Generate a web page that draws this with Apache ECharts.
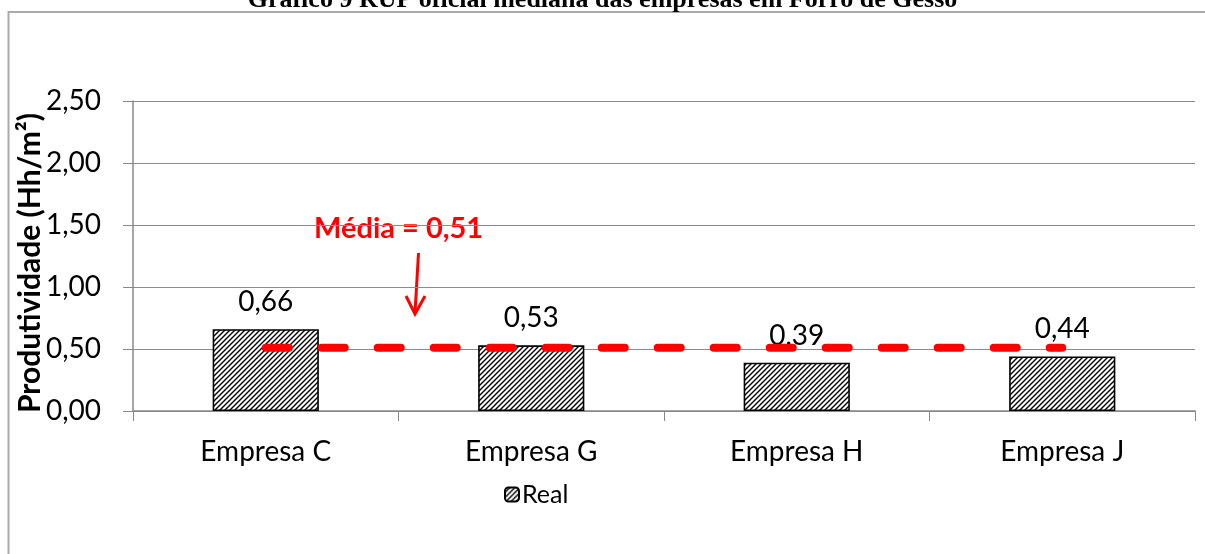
<!DOCTYPE html>
<html><head><meta charset="utf-8">
<script src="https://cdn.jsdelivr.net/npm/echarts@6/dist/echarts.min.js"></script>
<style>html,body{margin:0;padding:0;background:#fff}#c{width:1205px;height:554px}</style>
</head><body><div id="c"></div>
<script>
const titleText = 'Gráfico 9 RUP oficial mediana das empresas em Forro de Gesso';
const categories = ['Empresa C', 'Empresa G', 'Empresa H', 'Empresa J'];
const realValues = [0.66, 0.53, 0.39, 0.44];
const mediaValue = 0.51;
const mediaValues = categories.map(() => mediaValue);
const yTicks = [0, 0.5, 1.0, 1.5, 2.0, 2.5];
const yAxisName = 'Produtividade (Hh/m²)';
const annotationText = 'Média = 0,51';

const FONT = 'Lato';
function fmt(v){ return v.toFixed(2).replace('.', ','); }

function hatch(){
  const s = 5, c = document.createElement('canvas');
  c.width = s; c.height = s;
  const g = c.getContext('2d');
  g.fillStyle = '#fff'; g.fillRect(0,0,s,s);
  g.strokeStyle = '#000'; g.lineWidth = 1.4;
  g.beginPath();
  g.moveTo(-1, s+1); g.lineTo(s+1, -1);
  g.moveTo(-1, 1); g.lineTo(1, -1);
  g.moveTo(s-1, s+1); g.lineTo(s+1, s-1);
  g.stroke();
  return c;
}
const pat = {image: hatch(), repeat: 'repeat'};

const chart = echarts.init(document.getElementById('c'), null, {renderer: 'canvas'});
chart.setOption({
  animation: false,
  backgroundColor: '#fff',
  title: {
    text: titleText, left: 'center', top: -18,
    textStyle: {fontFamily: 'Liberation Serif', fontWeight: 'bold', fontSize: 26, color: '#000'}
  },
  grid: {left: 133, right: 10, top: 101, bottom: 143},
  legend: {
    data: ['Real'], left: 499, top: 477, itemWidth: 14, itemHeight: 14, itemGap: 4,
    textStyle: {fontFamily: FONT, fontSize: 25, color: '#000', padding: [0,0,0,-2]}
  },
  xAxis: {
    type: 'category', data: categories,
    axisLine: {lineStyle: {color: '#888', width: 1.5}},
    axisTick: {show: true, length: 10, lineStyle: {color: '#888'}},
    axisLabel: {fontFamily: FONT, fontSize: 28, color: '#000', margin: 27}
  },
  yAxis: {
    type: 'value', min: yTicks[0], max: yTicks[yTicks.length-1], interval: 0.5,
    name: yAxisName, nameLocation: 'middle', nameGap: 88, nameMoveOverlap: false,
    nameTextStyle: {fontFamily: FONT, fontWeight: 'bold', fontSize: 30, color: '#000', padding: [0, 14, 0, 0]},
    axisLine: {show: true, lineStyle: {color: '#888', width: 1.5}},
    axisTick: {show: true, length: 10, lineStyle: {color: '#888'}},
    axisLabel: {fontFamily: FONT, fontSize: 28, color: '#000', margin: 32, formatter: fmt},
    splitLine: {lineStyle: {color: '#8c8c8c', width: 1.2}}
  },
  series: [
    {
      name: 'Real', type: 'bar', data: realValues, barWidth: '40%',
      itemStyle: {color: pat, borderColor: '#000', borderWidth: 1.6},
      label: {show: true, position: 'top', distance: 13, formatter: p => fmt(p.value),
        fontFamily: FONT, fontSize: 28, color: '#000'}
    },
    {
      name: 'Média', type: 'line', data: mediaValues, symbol: 'none', z: 5,
      lineStyle: {color: '#ff0000', width: 8, type: [23, 33], cap: 'round'}
    }
  ],
  graphic: [
    {type: 'rect', shape: {x: 8.5, y: 12, width: 1400, height: 700}, silent: true,
      style: {fill: 'none', stroke: '#aaa', lineWidth: 2}, z: -1},
    {type: 'text', left: 314, top: 214, style: {text: annotationText, fill: '#ff0000',
      font: 'bold 29px ' + FONT}},
    {type: 'line', shape: {x1: 418.5, y1: 253, x2: 415, y2: 313},
      style: {stroke: '#ff0000', lineWidth: 3}},
    {type: 'polyline', shape: {points: [[406, 296], [415, 314], [425, 296]]},
      style: {stroke: '#ff0000', lineWidth: 3, fill: 'none'}}
  ]
});
</script></body></html>
